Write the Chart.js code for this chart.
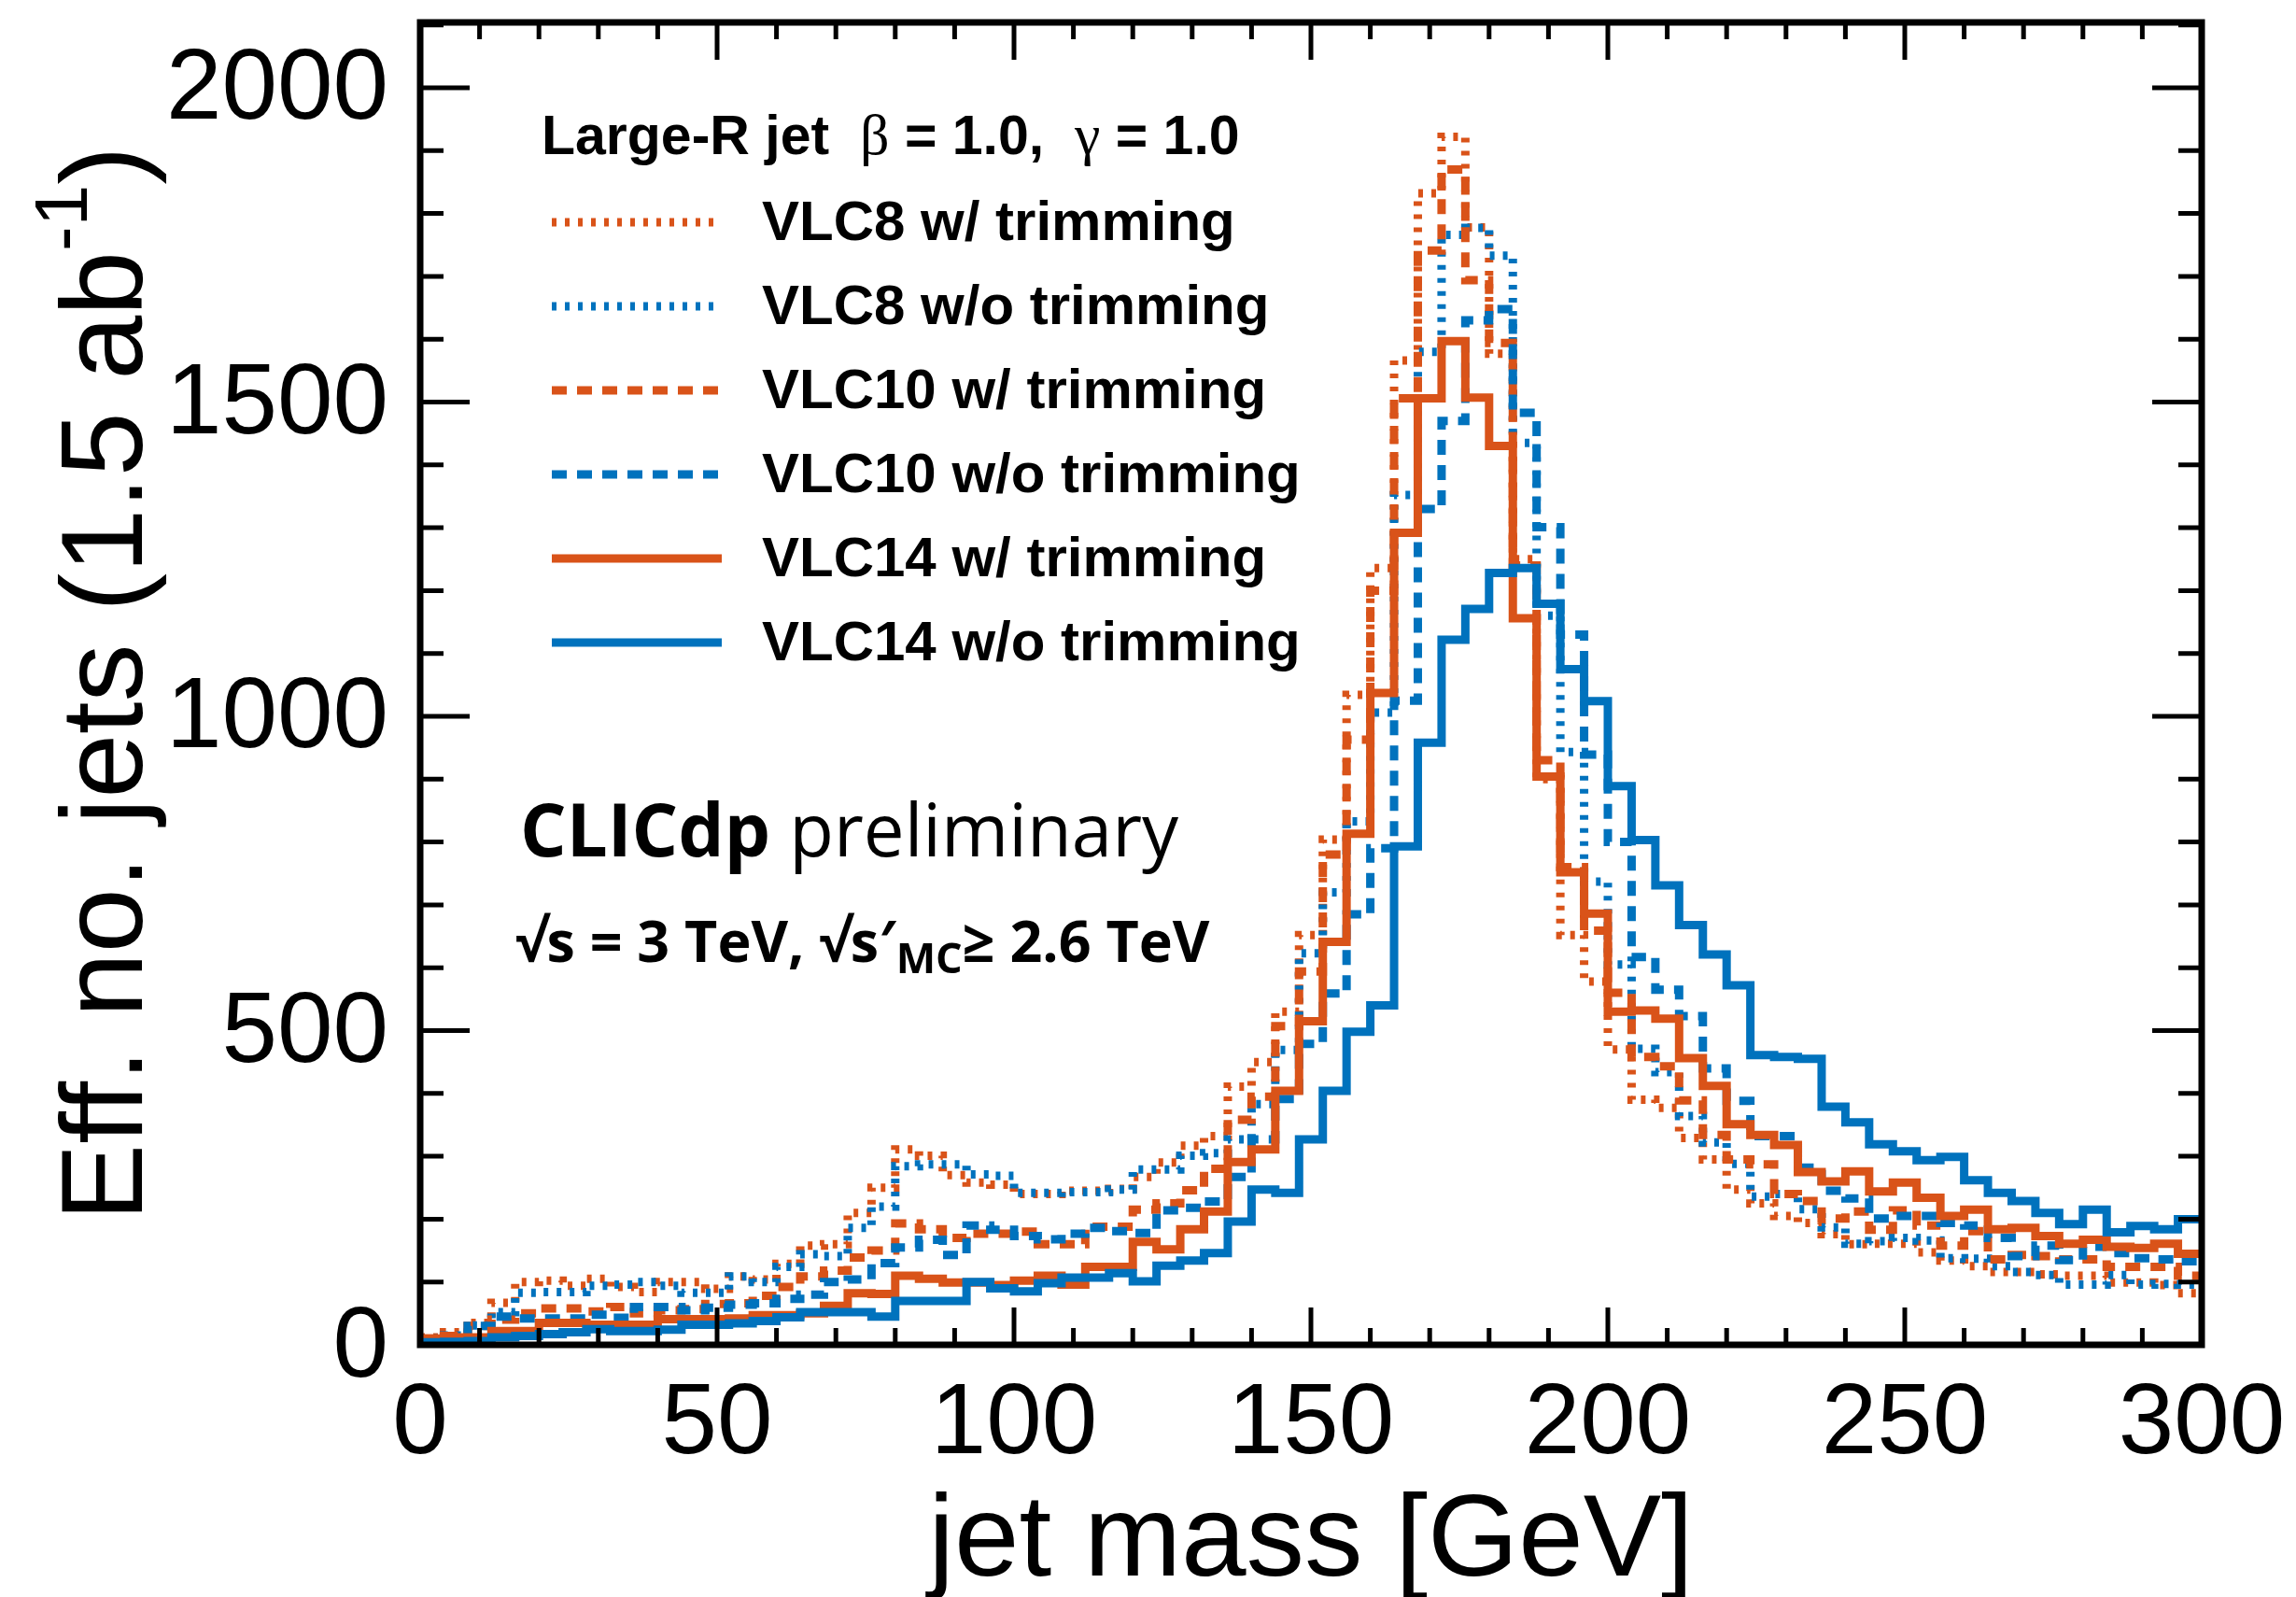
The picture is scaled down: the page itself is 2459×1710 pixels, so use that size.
<!DOCTYPE html>
<html>
<head>
<meta charset="utf-8">
<script src="https://cdn.jsdelivr.net/npm/chart.js@4.4.0/dist/chart.umd.min.js"></script>
<style>
  html, body { margin: 0; padding: 0; background: #fff; }
  #wrap { width: 2459px; height: 1710px; }
</style>
</head>
<body>
<div id="wrap"><canvas id="mychart"></canvas></div>
<script>
// bin width in GeV, 75 bins from 0 to 300
const binWidth = 4;

// effective number of jets per bin
const vlc8W = [
  12, 20, 35, 67, 100, 102, 94, 105, 92, 84,
  100, 100, 89, 109, 104, 129, 158, 160, 210, 250,
  311, 301, 270, 258, 255, 240, 240, 245, 245, 248,
  267, 290, 317, 332, 411, 450, 530, 652, 804, 1034,
  1236, 1566, 1832, 1922, 1778, 1577, 1250, 900, 652, 578,
  470, 390, 377, 329, 295, 247, 225, 205, 194, 176,
  160, 161, 161, 147, 134, 125, 116, 116, 112, 110,
  110, 99, 99, 95, 82
];
const vlc8Wo = [
  10, 15, 31, 52, 83, 84, 84, 94, 96, 100,
  94, 83, 83, 109, 100, 124, 144, 141, 186, 220,
  284, 287, 287, 271, 269, 242, 242, 243, 243, 247,
  279, 279, 301, 305, 327, 383, 469, 623, 720, 833,
  1006, 1352, 1580, 1766, 1777, 1733, 1435, 1160, 943, 737,
  605, 471, 434, 364, 322, 288, 236, 240, 216, 187,
  161, 165, 170, 166, 138, 137, 125, 116, 111, 96,
  96, 111, 96, 97, 96
];
const vlc10W = [
  10, 14, 30, 40, 50, 58, 58, 53, 60, 50,
  55, 57, 65, 66, 78, 92, 109, 118, 139, 150,
  193, 184, 170, 177, 177, 180, 160, 160, 188, 188,
  215, 225, 246, 280, 358, 395, 507, 594, 780, 963,
  1200, 1506, 1741, 1870, 1694, 1594, 1240, 930, 760, 659,
  560, 458, 443, 389, 334, 295, 287, 240, 229, 201,
  212, 183, 214, 190, 158, 181, 136, 143, 141, 136,
  136, 124, 124, 124, 110
];
const vlc10Wo = [
  6, 10, 30, 45, 42, 42, 42, 48, 43, 60,
  60, 55, 59, 64, 66, 73, 80, 100, 104, 130,
  155, 167, 143, 190, 183, 173, 168, 177, 186, 181,
  178, 214, 218, 228, 267, 327, 391, 479, 559, 685,
  790, 1025, 1330, 1470, 1630, 1648, 1483, 1301, 1130, 939,
  800, 617, 565, 523, 440, 388, 332, 332, 282, 245,
  233, 201, 205, 205, 194, 190, 170, 141, 158, 135,
  156, 146, 138, 136, 133
];
const vlc14W = [
  10, 12, 12, 22, 22, 35, 35, 32, 32, 32,
  41, 41, 41, 42, 47, 47, 50, 62, 82, 81,
  110, 105, 99, 99, 95, 102, 110, 96, 124, 124,
  164, 152, 184, 212, 291, 311, 404, 515, 641, 813,
  1037, 1292, 1506, 1597, 1507, 1430, 1156, 904, 752, 686,
  530, 532, 519, 456, 412, 351, 334, 318, 275, 260,
  276, 244, 258, 234, 205, 215, 184, 186, 173, 161,
  167, 156, 154, 161, 145
];
const vlc14Wo = [
  4, 5, 6, 12, 14, 17, 20, 25, 22, 22,
  24, 32, 32, 34, 38, 44, 52, 52, 52, 45,
  70, 70, 70, 100, 90, 85, 98, 107, 107, 114,
  101, 126, 134, 146, 196, 247, 242, 327, 404, 498,
  540, 793, 958, 1122, 1171, 1228, 1236, 1179, 1075, 1024,
  889, 803, 731, 668, 621, 572, 461, 458, 455, 379,
  354, 319, 308, 294, 299, 262, 242, 229, 210, 192,
  215, 179, 189, 184, 200
];

const xTicks = [0, 50, 100, 150, 200, 250, 300];
const yTicks = [0, 500, 1000, 1500, 2000];

const orange = '#D95319';
const blue = '#0072BD';
const dotted = [5, 9];
const dashed = [16, 11];

const series = [
  { label: 'VLC8 w/ trimming', values: vlc8W, color: orange, dash: dotted },
  { label: 'VLC8 w/o trimming', values: vlc8Wo, color: blue, dash: dotted },
  { label: 'VLC10 w/ trimming', values: vlc10W, color: orange, dash: dashed },
  { label: 'VLC10 w/o trimming', values: vlc10Wo, color: blue, dash: dashed },
  { label: 'VLC14 w/ trimming', values: vlc14W, color: orange, dash: [] },
  { label: 'VLC14 w/o trimming', values: vlc14Wo, color: blue, dash: [] }
];

// points at the left bin edges plus the last right edge, drawn as steps
function histPoints(values) {
  const pts = values.map((v, i) => ({ x: i * binWidth, y: v }));
  pts.push({ x: values.length * binWidth, y: values[values.length - 1] });
  return pts;
}

const SANS = '"Liberation Sans", Arial, Helvetica, sans-serif';
const HUMAN = '"Open Sans", Lato, sans-serif';

// frame, ticks, titles, legend and labels
const decorations = {
  id: 'decorations',
  afterDraw(chart) {
    const ctx = chart.ctx;
    const area = chart.chartArea;
    const xs = chart.scales.x;
    const ys = chart.scales.y;
    ctx.save();
    ctx.strokeStyle = '#000';
    ctx.fillStyle = '#000';

    // ticks, inward on all four sides
    ctx.lineWidth = 5;
    ctx.beginPath();
    for (let g = 0; g <= 300; g += 10) {
      const px = xs.getPixelForValue(g);
      const len = g % 50 === 0 ? 40 : 18;
      ctx.moveTo(px, area.bottom); ctx.lineTo(px, area.bottom - len);
      ctx.moveTo(px, area.top); ctx.lineTo(px, area.top + len);
    }
    for (let v = 0; v <= 2100; v += 100) {
      const py = ys.getPixelForValue(v);
      const len = v % 500 === 0 ? 53 : 25;
      ctx.moveTo(area.left, py); ctx.lineTo(area.left + len, py);
      ctx.moveTo(area.right, py); ctx.lineTo(area.right - len, py);
    }
    ctx.stroke();

    // frame
    ctx.lineWidth = 7;
    ctx.strokeRect(area.left, area.top, area.right - area.left, area.bottom - area.top);

    // x title
    ctx.font = '125px ' + SANS;
    ctx.textAlign = 'center';
    ctx.textBaseline = 'alphabetic';
    ctx.fillText('jet mass [GeV]', (area.left + area.right) / 2, 1687);

    // y title, rotated, with superscript
    ctx.save();
    ctx.translate(152, (area.top + area.bottom) / 2);
    ctx.rotate(-Math.PI / 2);
    const mainFont = '124px ' + SANS;
    const supFont = '80px ' + SANS;
    ctx.textAlign = 'left';
    ctx.font = mainFont;
    const p1 = 'Eff. no. jets (1.5 ab';
    const p3 = ')';
    const w1 = ctx.measureText(p1).width;
    const w3 = ctx.measureText(p3).width;
    ctx.font = supFont;
    const w2 = ctx.measureText('-1').width;
    const x0 = -(w1 + w2 + w3) / 2;
    ctx.font = mainFont;
    ctx.fillText(p1, x0, 0);
    ctx.font = supFont;
    ctx.fillText('-1', x0 + w1, -59);
    ctx.font = mainFont;
    ctx.fillText(p3, x0 + w1 + w2, 0);
    ctx.restore();

    // legend header
    ctx.textAlign = 'left';
    let hx = 580;
    const hy = 165;
    const parts = [
      ['Large-R jet  ', 'bold 59px ' + SANS],
      ['\u03B2', '62px "Liberation Serif", serif'],
      [' = 1.0,  ', 'bold 59px ' + SANS],
      ['\u03B3', '62px "Liberation Serif", serif'],
      [' = 1.0', 'bold 59px ' + SANS]
    ];
    parts.forEach(([t, f]) => {
      ctx.font = f;
      ctx.fillText(t, hx, hy);
      hx += ctx.measureText(t).width;
    });

    // legend entries, styled from the datasets
    chart.data.datasets.forEach((ds, i) => {
      const ly = 238 + 90 * i;
      ctx.save();
      ctx.strokeStyle = ds.borderColor;
      ctx.lineWidth = ds.borderWidth;
      ctx.setLineDash(ds.borderDash || []);
      ctx.beginPath();
      ctx.moveTo(591, ly);
      ctx.lineTo(773, ly);
      ctx.stroke();
      ctx.restore();
      ctx.font = 'bold 60px ' + SANS;
      ctx.fillText(ds.label, 816, ly + 19);
    });

    // CLICdp label
    ctx.font = 'bold 78px ' + HUMAN;
    ctx.fillText('CLICdp', 557, 917);
    const wc = ctx.measureText('CLICdp ').width;
    ctx.font = '400 78px ' + HUMAN;
    ctx.fillText('preliminary', 557 + wc, 917);

    // energy label with subscript
    let ex = 552;
    const ey = 1030;
    const eparts = [
      ['\u221As = 3 TeV, \u221As\u2032', 'bold 61px ' + HUMAN, 0],
      ['MC', 'bold 45px ' + HUMAN, 12],
      ['\u2265 2.6 TeV', 'bold 61px ' + HUMAN, 0]
    ];
    eparts.forEach(([t, f, dy]) => {
      ctx.font = f;
      ctx.fillText(t, ex, ey + dy);
      ex += ctx.measureText(t).width;
    });

    ctx.restore();
  }
};

const ctx = document.getElementById('mychart').getContext('2d');
const myChart = new Chart(ctx, {
  type: 'line',
  data: {
    datasets: series.map((s, i) => ({
      label: s.label,
      data: histPoints(s.values),
      borderColor: s.color,
      borderDash: s.dash,
      borderWidth: 9,
      borderCapStyle: 'butt',
      borderJoinStyle: 'miter',
      stepped: true,
      pointRadius: 0,
      fill: false,
      order: series.length - i
    }))
  },
  options: {
    responsive: true,
    maintainAspectRatio: false,
    animation: false,
    devicePixelRatio: 1,
    layout: { padding: { top: 24, right: 101, left: 0, bottom: 0 } },
    plugins: { legend: { display: false }, tooltip: { enabled: false } },
    scales: {
      x: {
        type: 'linear',
        min: 0,
        max: 300,
        grid: { display: false, drawTicks: false },
        border: { display: false },
        ticks: {
          color: '#000',
          font: { family: SANS, size: 107 },
          padding: 22,
          maxRotation: 0,
          autoSkip: false,
          callback: v => String(v)
        },
        afterBuildTicks: scale => { scale.ticks = xTicks.map(v => ({ value: v })); },
        afterFit: scale => { scale.height = 270; scale.paddingLeft = 0; scale.paddingRight = 0; }
      },
      y: {
        type: 'linear',
        min: 0,
        max: 2104,
        grid: { display: false, drawTicks: false },
        border: { display: false },
        ticks: {
          color: '#000',
          font: { family: SANS, size: 107 },
          padding: 34,
          labelOffset: 4,
          autoSkip: false,
          callback: v => String(v)
        },
        afterBuildTicks: scale => { scale.ticks = yTicks.map(v => ({ value: v })); },
        afterFit: scale => { scale.width = 450; scale.paddingTop = 0; scale.paddingBottom = 0; }
      }
    }
  },
  plugins: [decorations]
});
</script>
</body>
</html>
